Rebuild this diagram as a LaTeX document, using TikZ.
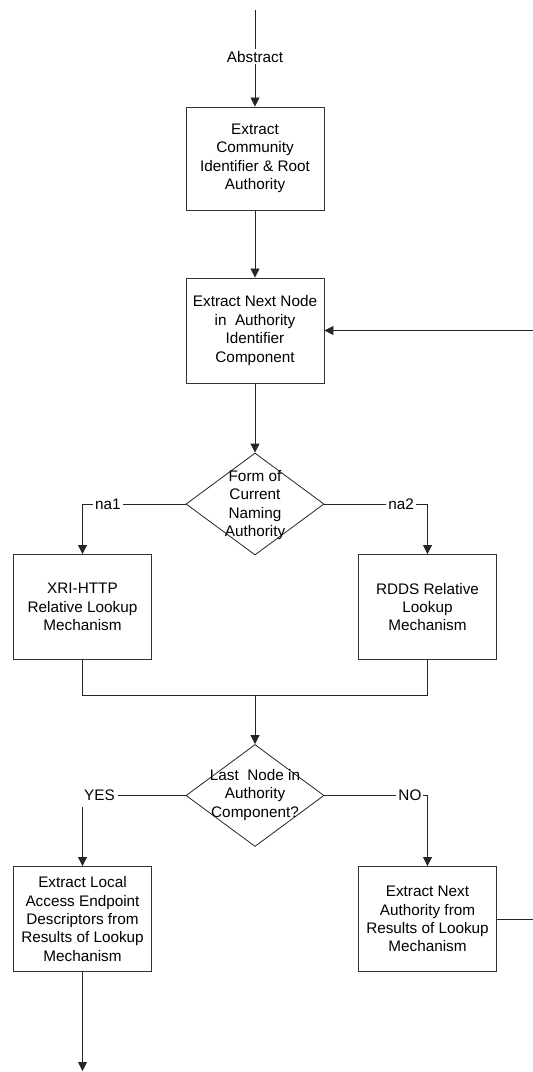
\documentclass[tikz,border=0pt]{standalone}
\usepackage{fontspec}
\setmainfont{Liberation Sans}
\usetikzlibrary{arrows.meta,shapes.geometric}
\newcommand{\figfont}{\fontsize{15.3pt}{18.4pt}\selectfont}
\begin{document}
\begin{tikzpicture}[x=1pt,y=-1pt,
  font=\figfont,
  box/.style={draw=black!80,line width=0.9pt,minimum width=138pt,minimum height=105pt,inner sep=0pt,align=center},
  dia/.style={draw=black!85,line width=0.8pt,shape=diamond,minimum width=138pt,minimum height=102pt,inner sep=0pt},
  dtext/.style={align=center,inner sep=0pt},
  lbl/.style={fill=white,inner sep=2pt},
  conn/.style={draw=black!85,line width=0.8pt},
  arr/.style={conn,-{Triangle[length=9pt,width=9pt]}}
]
\clip (0,0) rectangle (533,1072);
\coordinate (top) at (255,10);
\node[box,minimum height=103pt] (b1) at (255,158.5) {Extract\\Community\\Identifier \& Root\\Authority};
\node[box] (b2) at (255,330.5) {Extract Next Node\\in\ \ Authority\\Identifier\\Component};
\node[dia] (d1) at (255,504) {};
\node[dtext] (d1t) at (255,505) {Form of\\Current\\Naming\\Authority};
\node[box] (b3) at (82.5,607) {XRI-HTTP\\Relative Lookup\\Mechanism};
\node[box] (b4) at (427.5,607) {RDDS Relative\\Lookup\\Mechanism};
\coordinate (m) at (255,695);
\node[dia] (d2) at (255,795.5) {};
\node[dtext] (d2t) at (255,795) {Last\ \ Node in\\Authority\\Component?};
\node[box] (b5) at (82.5,919) {Extract Local\\Access Endpoint\\Descriptors from\\Results of Lookup\\Mechanism};
\node[box] (b6) at (427.5,919) {Extract Next\\Authority from\\Results of Lookup\\Mechanism};
\coordinate (end) at (82.5,1071);
\coordinate (fb) at (560,919);

\draw[arr] (top) -- node[lbl,pos=0.485] (lab) {Abstract} (b1.north);
\draw[arr] (b1) -- (b2);
\draw[arr] (b2) -- (d1);
\draw[arr] (d1.west) -| node[lbl,pos=0.377] (lna1) {na1} (b3.north);
\draw[arr] (d1.east) -| node[lbl,pos=0.372] (lna2) {na2} (b4.north);
\draw[conn] (b3.south) |- (m) -| (b4.south);
\draw[arr] (m) -- (d2.north);
\draw[arr] (d2.west) -| node[lbl,pos=0.418,inner sep=3pt,minimum height=22pt] (lyes) {YES} (b5.north);
\draw[arr] (d2.east) -| node[lbl,pos=0.415] (lno) {NO} (b6.north);
\draw[arr] (b5.south) -- (end);
\draw[arr] (b6.east) -- (fb) |- (b2.east);
\end{tikzpicture}
\end{document}
